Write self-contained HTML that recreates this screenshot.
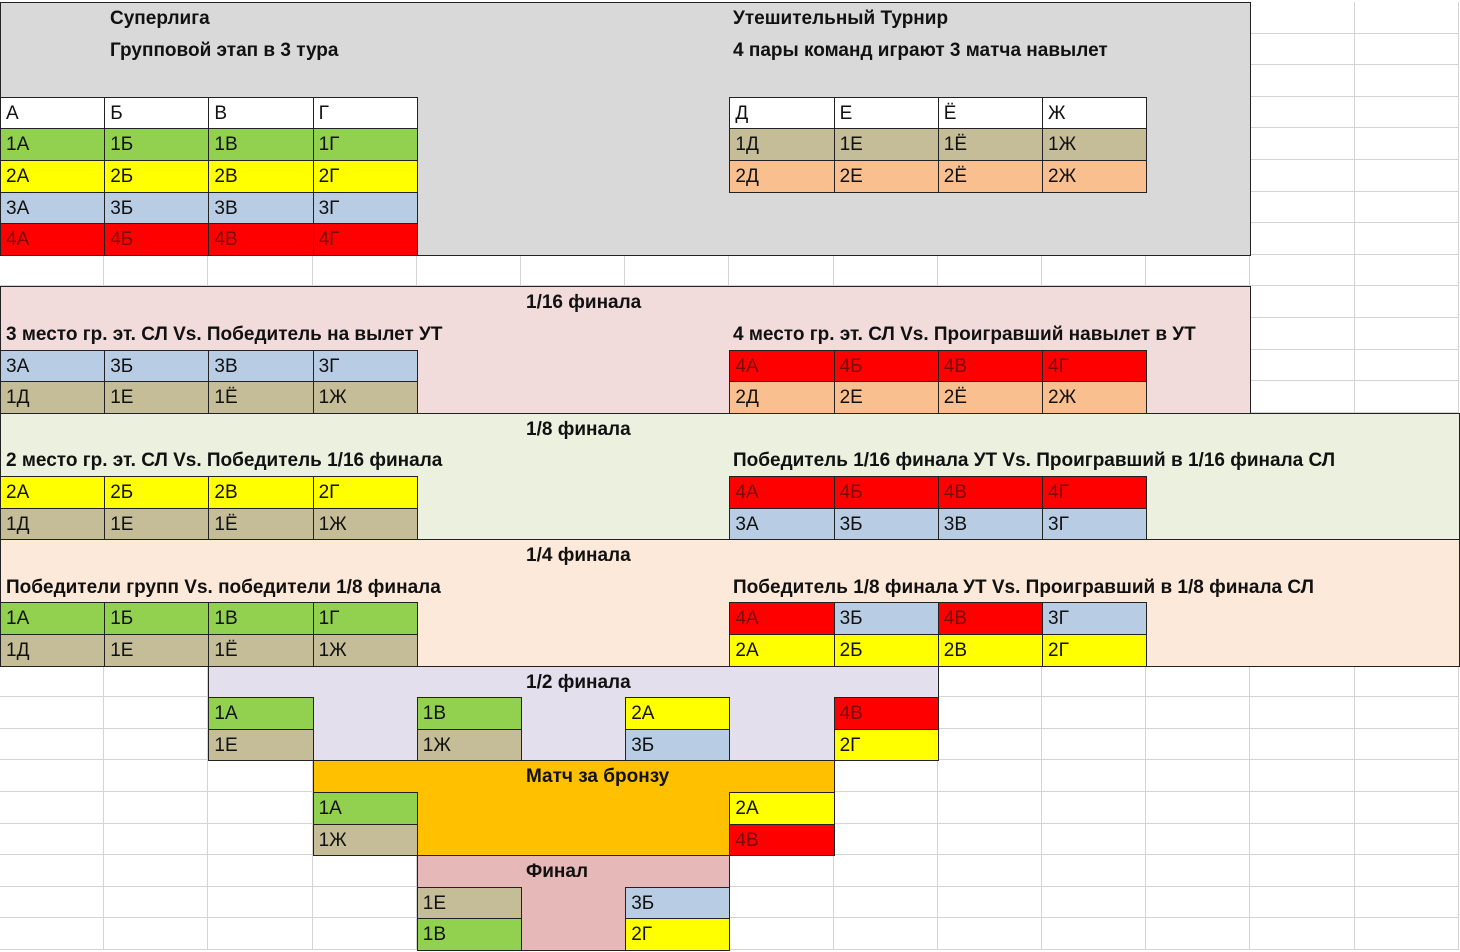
<!DOCTYPE html>
<html><head><meta charset="utf-8"><style>
body{margin:0;width:1460px;height:952px;overflow:hidden;background:#fff;font-family:"Liberation Sans","DejaVu Sans",sans-serif;}
#sheet{position:relative;width:1460px;height:952px;}
.g,.b,.c,.t{position:absolute;box-sizing:border-box;}
.g{border-right:1px solid #d4d4d4;border-bottom:1px solid #d4d4d4;}
.b{border:1.5px solid #222;}
.c{border:1.5px solid #222;font-size:19px;padding-left:5px;line-height:31px;color:#111;}
.t{font-size:19px;font-weight:bold;white-space:nowrap;color:#111;line-height:31px;}
</style></head><body><div id="sheet"></div>
<script>
const CW=104.2, RH=31.6, Y0=2;
const S=document.getElementById('sheet');
const X=c=>c*CW, Y=r=>Y0+r*RH;
// background grid
for(let r=0;r<30;r++)for(let c=0;c<14;c++){
 const d=document.createElement('div');d.className='g';
 
 
 d.style.cssText=`left:${X(c)}px;top:${Y(r)}px;width:${CW}px;height:${RH}px`;S.appendChild(d);}
const blocks=[
 ['group-stage-block',0,0,12,8,'#d9d9d9'],
 ['round-of-32-block',0,9,12,4,'#f2dcdb'],
 ['round-of-16-block',0,13,14,4,'#ebf1de'],
 ['quarterfinal-block',0,17,14,4,'#fde9d9'],
 ['semifinal-block',2,21,7,3,'#e4dfec'],
 ['bronze-match-block',3,24,5,3,'#ffc000'],
 ['final-block',4,27,3,3,'#e6b8b7']];
blocks.forEach(b=>{const d=document.createElement('div');d.className='b';
 
 
 d.style.cssText=`left:${X(b[1])}px;top:${Y(b[2])}px;width:${b[3]*CW+1}px;height:${b[4]*RH+1}px;background:${b[5]}`;S.appendChild(d);});
const C={G:'#92d050',Y:'#ffff00',B:'#b8cce4',R:'#ff0000',K:'#c4bd97',P:'#fabf8f',W:'#ffffff'};
const cells=[];
function row(c0,r,labels,col){labels.forEach((l,i)=>cells.push([l,c0+i,r,Array.isArray(col)?col[i]:col]));}
row(0,3,['А','Б','В','Г'],'W');row(0,4,['1А','1Б','1В','1Г'],'G');row(0,5,['2А','2Б','2В','2Г'],'Y');
row(0,6,['3А','3Б','3В','3Г'],'B');row(0,7,['4А','4Б','4В','4Г'],'R');
row(7,3,['Д','Е','Ё','Ж'],'W');row(7,4,['1Д','1Е','1Ё','1Ж'],'K');row(7,5,['2Д','2Е','2Ё','2Ж'],'P');
row(0,11,['3А','3Б','3В','3Г'],'B');row(0,12,['1Д','1Е','1Ё','1Ж'],'K');
row(7,11,['4А','4Б','4В','4Г'],'R');row(7,12,['2Д','2Е','2Ё','2Ж'],'P');
row(0,15,['2А','2Б','2В','2Г'],'Y');row(0,16,['1Д','1Е','1Ё','1Ж'],'K');
row(7,15,['4А','4Б','4В','4Г'],'R');row(7,16,['3А','3Б','3В','3Г'],'B');
row(0,19,['1А','1Б','1В','1Г'],'G');row(0,20,['1Д','1Е','1Ё','1Ж'],'K');
row(7,19,['4А','3Б','4В','3Г'],['R','B','R','B']);row(7,20,['2А','2Б','2В','2Г'],'Y');
cells.push(['1А',2,22,'G'],['1Е',2,23,'K'],['1В',4,22,'G'],['1Ж',4,23,'K'],['2А',6,22,'Y'],['3Б',6,23,'B'],['4В',8,22,'R'],['2Г',8,23,'Y']);
cells.push(['1А',3,25,'G'],['1Ж',3,26,'K'],['2А',7,25,'Y'],['4В',7,26,'R']);
cells.push(['1Е',4,28,'K'],['1В',4,29,'G'],['3Б',6,28,'B'],['2Г',6,29,'Y']);
cells.forEach(c=>{const d=document.createElement('div');d.className='c';
 
 
 d.textContent=c[0];
 d.style.cssText=`left:${X(c[1])}px;top:${Y(c[2])}px;width:${CW+1}px;height:${RH+1}px;background:${C[c[3]]};${c[3]=='R'?'color:#7a0a0a;':''}`;S.appendChild(d);});
const titles=[
 ['Суперлига',110,0],['Групповой этап в 3 тура',110,1],['Утешительный Турнир',733,0],['4 пары команд играют 3 матча навылет',733,1],
 ['1/16 финала',526,9],['3 место гр. эт. СЛ Vs. Победитель на вылет УТ',6,10],['4 место гр. эт. СЛ Vs. Проигравший навылет в УТ',733,10],
 ['1/8 финала',526,13],['2 место гр. эт. СЛ Vs. Победитель 1/16 финала',6,14],['Победитель 1/16 финала УТ Vs. Проигравший в 1/16 финала СЛ',733,14],
 ['1/4 финала',526,17],['Победители групп Vs. победители 1/8 финала',6,18],['Победитель 1/8 финала УТ Vs. Проигравший в 1/8 финала СЛ',733,18],
 ['1/2 финала',526,21],['Матч за бронзу',526,24],['Финал',526,27]];
titles.forEach(t=>{const d=document.createElement('div');d.className='t';
 
 
 d.textContent=t[0];d.style.left=t[1]+'px';d.style.top=(Y(t[2])+1)+'px';S.appendChild(d);});
</script></body></html>
